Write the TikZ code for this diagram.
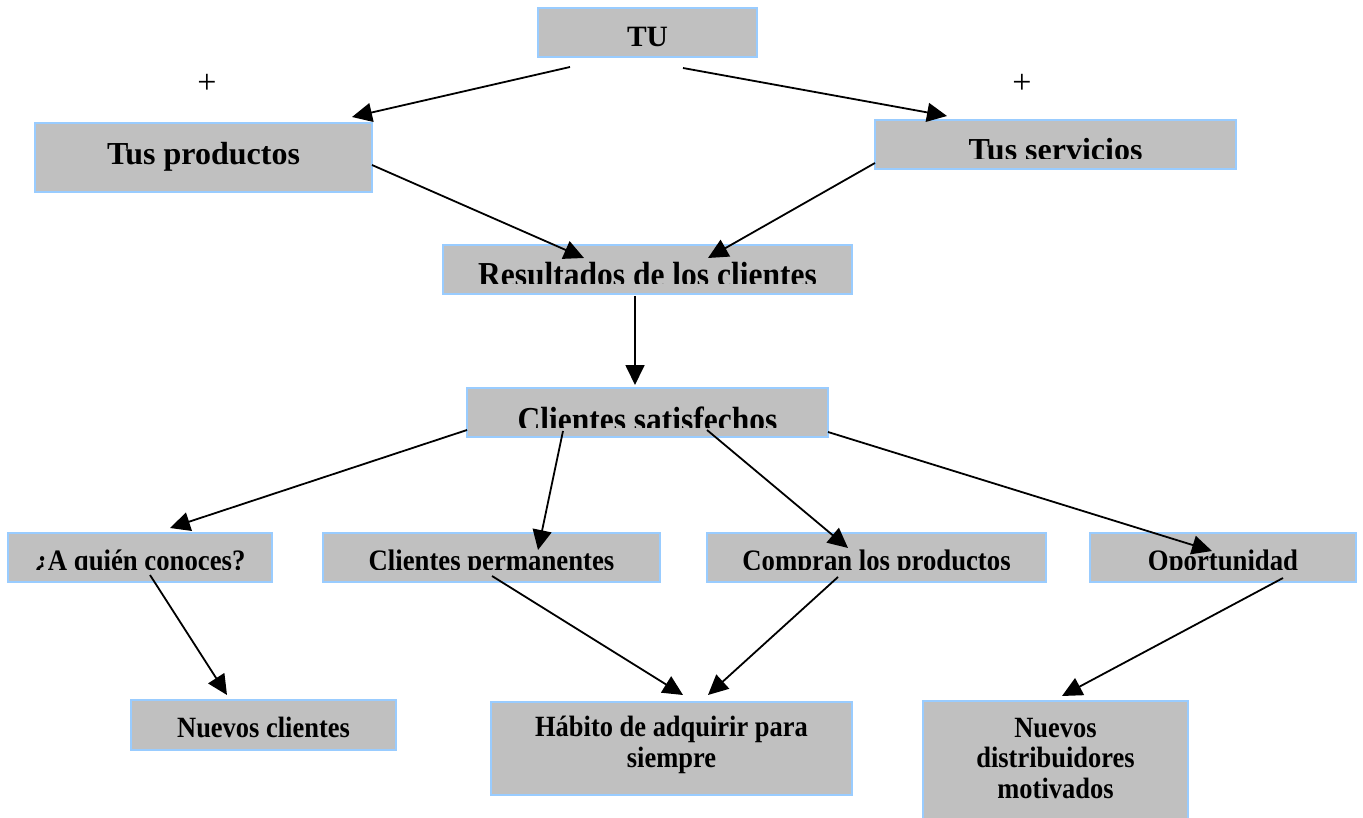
\documentclass[tikz,border=0pt]{standalone}
\usepackage{fontspec}
\setmainfont{Liberation Serif}
\newfontfamily\condfont[FakeStretch=0.9]{Liberation Serif}
\usetikzlibrary{arrows.meta}
\definecolor{boxfill}{HTML}{C0C0C0}
\definecolor{boxline}{HTML}{99CCFF}
\begin{document}
\begin{tikzpicture}[x=1pt,y=-1pt,
  box/.style={draw=boxline, fill=boxfill, line width=2pt, inner sep=0pt},
  lbl/.style={anchor=base, inner sep=0pt, align=center},
  big/.style={font=\fontsize{32}{38}\selectfont\bfseries},
  bigc/.style={font=\condfont\fontsize{35}{40}\selectfont\bfseries},
  mid/.style={font=\condfont\fontsize{29.7}{33}\selectfont\bfseries},
  sml/.style={font=\condfont\fontsize{29.4}{30.5}\selectfont\bfseries},
  plus/.style={font=\fontsize{34}{36}\selectfont, inner sep=0pt},
  arr/.style={line width=1.8pt, -{Triangle[length=20pt,width=19pt]}},
]
\useasboundingbox (0,0) rectangle (1363,818);
% boxes
\node[box, minimum width=219, minimum height=49] (tu) at (647.5,32.5) {};
\node[box, minimum width=337, minimum height=69] (prod) at (203.5,157.5) {};
\node[box, minimum width=361, minimum height=49] (serv) at (1055.5,144.5) {};
\node[box, minimum width=409, minimum height=49] (res) at (647.5,269.5) {};
\node[box, minimum width=361, minimum height=49] (sat) at (647.5,412.5) {};
\node[box, minimum width=264, minimum height=49] (quien) at (140,557.5) {};
\node[box, minimum width=337, minimum height=49] (perm) at (491.5,557.5) {};
\node[box, minimum width=339, minimum height=49] (comp) at (876.5,557.5) {};
\node[box, minimum width=266, minimum height=49] (opor) at (1223,557.5) {};
\node[box, minimum width=265, minimum height=50] (nuev) at (263.5,725) {};
\node[box, minimum width=361, minimum height=93] (hab) at (671.5,748.5) {};
\node[box, minimum width=265, minimum height=119] (dist) at (1055.5,760.5) {};
% texts
\node[lbl, font=\fontsize{29.5}{34}\selectfont\bfseries] (tut) at (647.5,47) {TU};
\node[lbl, big] (prodt) at (203.5,165) {Tus productos};
\begin{scope}
\clip (875,120) rectangle (1236,159);
\node[lbl, big] (servt) at (1055.5,161) {Tus servicios};
\end{scope}
\begin{scope}
\clip (443,245) rectangle (852,284);
\node[lbl, bigc] (rest) at (647.5,287) {Resultados de los clientes};
\end{scope}
\begin{scope}
\clip (466,388) rectangle (828,427);
\node[lbl, bigc] (satt) at (647.5,431) {Clientes satisfechos};
\end{scope}
\begin{scope}
\clip (0,533) rectangle (1363,569);
\node[lbl, mid] (quient) at (140,570) {¿A quién conoces?};
\node[lbl, mid] (permt) at (491.5,570) {Clientes permanentes};
\node[lbl, mid] (compt) at (876.5,570) {Compran los productos};
\node[lbl, mid] (oport) at (1223,570) {Oportunidad};
\end{scope}
\node[lbl, sml] (nuevt) at (263.5,737) {Nuevos clientes};
\node[lbl, sml] (habt) at (671.5,767) {Hábito de adquirir para\\siempre};
\node[lbl, sml] (distt) at (1055.5,798) {Nuevos\\distribuidores\\motivados};
\node[plus] (plusl) at (207,84) {+};
\node[plus] (plusr) at (1022,84) {+};
% arrows
\draw[arr] ([shift={(-77.5,34.5)}]tu.center) -- ([shift={(148.5,-40.5)}]prod.center);
\draw[arr] ([shift={(35.5,35.5)}]tu.center) -- ([shift={(-108.5,-28.5)}]serv.center);
\draw[arr] ([shift={(168.5,7.5)}]prod.center) -- ([shift={(-63.5,-11.5)}]res.center);
\draw[arr] ([shift={(-180.5,18.5)}]serv.center) -- ([shift={(60.5,-11.5)}]res.center);
\draw[arr] ([shift={(-12.5,26.5)}]res.center) -- ([shift={(-12.5,-27.5)}]sat.center);
\draw[arr] ([shift={(-180.5,17.5)}]sat.center) -- ([shift={(30,-29.5)}]quien.center);
\draw[arr] ([shift={(-84.5,18.5)}]sat.center) -- ([shift={(46.5,-7.5)}]perm.center);
\draw[arr] ([shift={(59.5,17.5)}]sat.center) -- ([shift={(-28.5,-9.5)}]comp.center);
\draw[arr] ([shift={(180.5,19.5)}]sat.center) -- ([shift={(-11,-6.5)}]opor.center);
\draw[arr] ([shift={(10,17.5)}]quien.center) -- ([shift={(-36.5,-30)}]nuev.center);
\draw[arr] ([shift={(0.5,18.5)}]perm.center) -- ([shift={(11.5,-53.5)}]hab.center);
\draw[arr] ([shift={(-38.5,19.5)}]comp.center) -- ([shift={(36.5,-53.5)}]hab.center);
\draw[arr] ([shift={(60,20.5)}]opor.center) -- ([shift={(6.5,-64.5)}]dist.center);
\end{tikzpicture}
\end{document}
